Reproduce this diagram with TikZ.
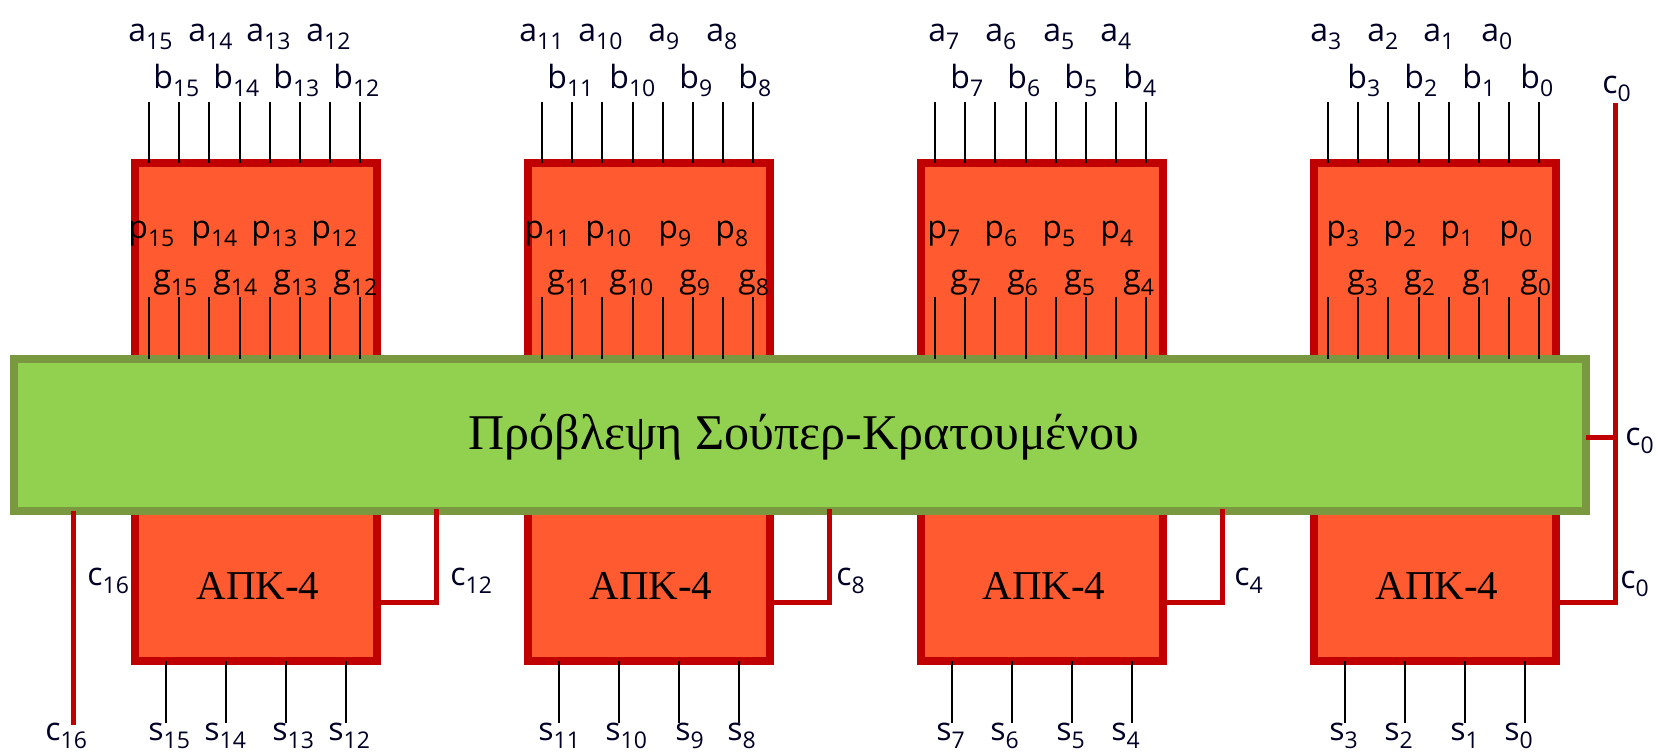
\documentclass[tikz,border=0pt]{standalone}
\usepackage{fontspec}
\setmainfont{Liberation Serif}
\newfontfamily\labelfont{Open Sans}
\definecolor{blockfill}{HTML}{FF5A30}
\definecolor{blockline}{HTML}{C00000}
\definecolor{greenfill}{HTML}{92D050}
\definecolor{greenline}{HTML}{7A983F}
\newcommand{\sig}[2]{#1\raisebox{-4pt}{\fontsize{11.5}{11.5}\selectfont #2}}
\tikzset{
  adder/.style={draw=blockline,fill=blockfill,line width=4pt,outer sep=0pt,inner sep=0pt,minimum width=121pt,minimum height=249pt},
  predictor/.style={draw=greenline,fill=greenfill,line width=4pt,outer sep=0pt,inner sep=0pt,minimum width=786pt,minimum height=76pt},
  predlabel/.style={inner sep=0pt,font=\fontsize{25}{25}\selectfont},
  adderlabel/.style={inner sep=0pt,font=\fontsize{20.5}{21}\selectfont},
  siglabel/.style={anchor=base west,inner sep=0pt,text=black!85!blue,font=\labelfont\fontsize{16}{16}\selectfont},
  signal/.style={black,line width=1pt},
  carry/.style={blockline,line width=2.5pt}
}
\begin{document}
\begin{tikzpicture}[x=0.5pt,y=-0.5pt]
  \useasboundingbox (0,0) rectangle (1658,752);
  % adder blocks
  \foreach \b/\x in {3/256,2/649,1/1042,0/1435}{
    \node[adder] (box\b) at (\x,412) {};
  }
  \node[predictor] (pred) at (800,435) {};
  \node[predlabel] (predtext) at (804,437) {Πρόβλεψη Σούπερ-Κρατουμένου};
  \foreach \b/\x in {3/258,2/651,1/1044,0/1437}{
    \node[adderlabel] (apk\b) at (\x,586) {ΑΠΚ-4};
  }
  % signal lines
  \foreach \b in {0,1,2,3}{
    \pgfmathsetmacro{\off}{(3-\b)*393}
    \foreach \l in {0,...,7}{
      \coordinate (in\b\l) at ({149+\off+30.2*\l},102);
      \coordinate (pg\b\l) at ({149+\off+30.2*\l},297);
      \draw[signal] (in\b\l) -- (in\b\l |- box\b.north);
      \draw[signal] (pg\b\l) -- (pg\b\l |- pred.north);
    }
    \foreach \l in {0,...,3}{
      \coordinate (out\b\l) at ({165.5+\off+60.3*\l},723);
      \draw[signal] (out\b\l |- box\b.south) -- (out\b\l);
    }
  }
  % carries
  \foreach \b/\x in {3/436,2/829,1/1222}{
    \coordinate (up\b) at (\x,509);
    \draw[carry] (box\b.east |- 0,602) -| (up\b);
  }
  \coordinate (cin) at (1615,103);
  \coordinate (cbranch) at (1615,437);
  \coordinate (cout) at (73.5,725);
  \draw[carry] (cin) |- (box0.east |- 0,602);
  \draw[carry] (pred.east |- cbranch) -- (cbranch);
  \draw[carry] (pred.south -| cout) -- (cout);
  % labels
  \foreach \n/\x in {15/128,14/188,13/246,12/306,11/519,10/578,9/648,8/706,7/928,6/985,5/1043,4/1100,3/1310,2/1367,1/1423,0/1481}{
    \node[siglabel] (a\n) at (\x,41) {\sig{a}{\n}};
  }
  \foreach \n/\x in {15/153,14/213,13/273,12/333,11/547,10/609,9/679,8/738,7/950,6/1007,5/1064,4/1123,3/1347,2/1404,1/1462,0/1520}{
    \node[siglabel] (b\n) at (\x,88) {\sig{b}{\n}};
    \node[siglabel,text=black] (g\n) at (\x,287) {\sig{g}{\n}};
  }
  \foreach \n/\x in {15/128,14/191,13/251,12/311,11/524,10/585,9/658,8/715,7/927,6/984,5/1042,4/1100,3/1326,2/1383,1/1440,0/1499}{
    \node[siglabel,text=black] (p\n) at (\x,238) {\sig{p}{\n}};
  }
  \foreach \n/\x in {15/148,14/204,13/272,12/328,11/538,10/605,9/675,8/727,7/936,6/990,5/1056,4/1111,3/1329,2/1384,1/1450,0/1504}{
    \node[siglabel] (s\n) at (\x,740) {\sig{s}{\n}};
  }
  \node[siglabel] (c16b) at (45,740) {\sig{c}{16}};
  \node[siglabel] (c16) at (87,585) {\sig{c}{16}};
  \node[siglabel] (c12) at (450,585) {\sig{c}{12}};
  \node[siglabel] (c8) at (836,585) {\sig{c}{8}};
  \node[siglabel] (c4) at (1234,585) {\sig{c}{4}};
  \node[siglabel] (c0b) at (1620,588) {\sig{c}{0}};
  \node[siglabel] (c0m) at (1625,445) {\sig{c}{0}};
  \node[siglabel] (c0t) at (1602,93) {\sig{c}{0}};
\end{tikzpicture}
\end{document}
